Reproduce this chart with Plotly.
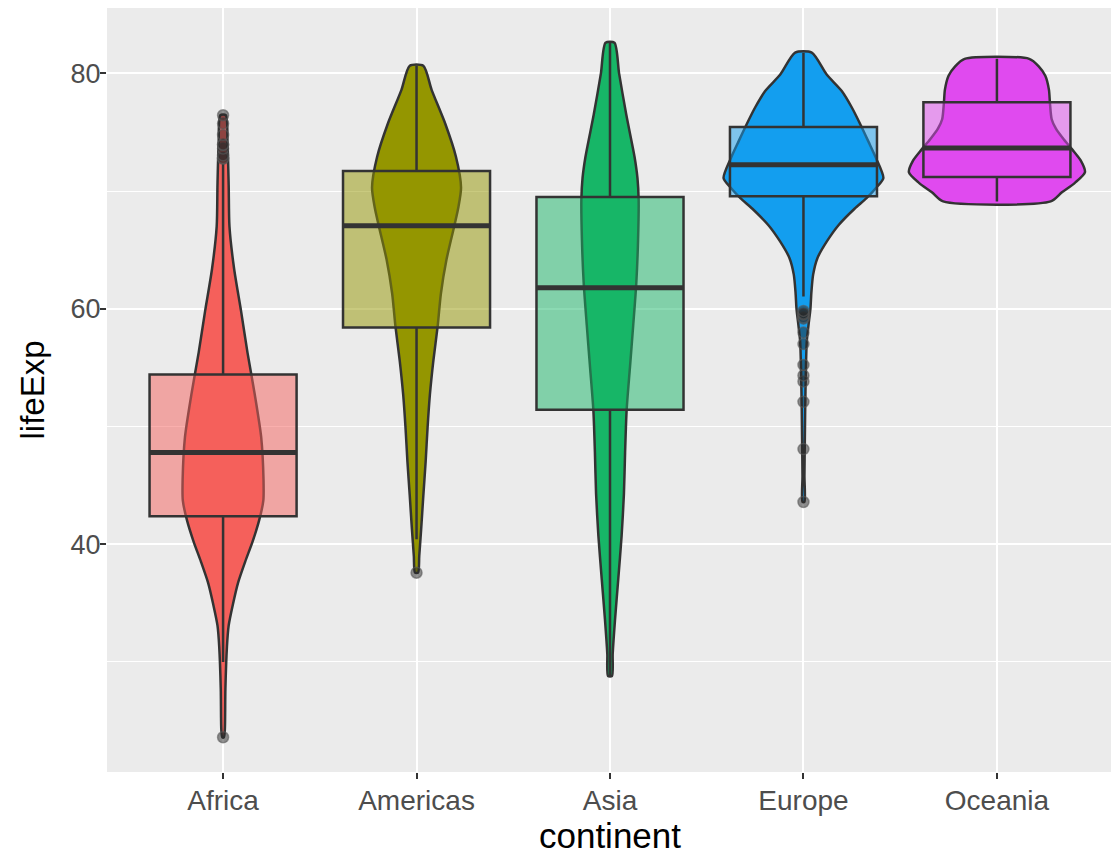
"""Violin + box plot of life expectancy by continent (ggplot2 look)."""

import plotly.graph_objects as go

continents = ["Africa", "Americas", "Asia", "Europe", "Oceania"]
positions = [1, 2, 3, 4, 5]

violin_colors = ["#F5605B", "#949600", "#17B667", "#139EEF", "#E04AEF"]
box_fills = [
    "rgba(245,96,91,0.5)",
    "rgba(148,150,0,0.5)",
    "rgba(23,182,103,0.5)",
    "rgba(19,158,239,0.5)",
    "rgba(224,74,239,0.5)",
]

# violin outlines: lifeExp level and half width (category units)
africa_y = [23.6, 24.2, 27.7, 31.3, 33.1, 34.9, 36.7, 38.5, 40.2, 42.0, 43.7,
            45.5, 49.1, 52.7, 56.3, 59.8, 63.4, 67.0, 70.5, 74.1, 76.44]
africa_w = [0.004, 0.009, 0.012, 0.020, 0.029, 0.051, 0.077, 0.114, 0.152, 0.186,
            0.208, 0.209, 0.197, 0.164, 0.126, 0.093, 0.057, 0.033, 0.029, 0.023, 0.014]

americas_y = [37.58, 39.0, 41.3, 44.1, 47.0, 49.9, 52.7, 55.6, 58.5, 61.3, 64.2,
              67.1, 68.6, 70.3, 72.9, 75.7, 78.6, 80.65]
americas_w = [0.008, 0.014, 0.024, 0.035, 0.047, 0.057, 0.069, 0.087, 0.109, 0.126,
              0.155, 0.196, 0.216, 0.230, 0.204, 0.149, 0.078, 0.035]

asia_y = [28.8, 30.7, 33.6, 37.1, 40.7, 44.3, 47.8, 51.4, 55.0, 58.6, 62.2, 65.8,
          69.3, 71.1, 72.9, 76.5, 80.0, 82.6]
asia_w = [0.010, 0.014, 0.026, 0.043, 0.060, 0.072, 0.078, 0.086, 0.103, 0.120,
          0.136, 0.145, 0.148, 0.142, 0.127, 0.084, 0.047, 0.023]

europe_y = [43.59, 45.8, 48.7, 51.5, 54.4, 57.2, 58.6, 60.0, 61.4, 62.9, 64.3, 65.7,
            67.1, 68.5, 69.4, 70.3, 71.1, 72.8, 74.2, 75.7, 77.1, 78.5, 79.9, 81.76]
europe_w = [0.005, 0.005, 0.007, 0.009, 0.012, 0.017, 0.026, 0.036, 0.041, 0.050,
            0.072, 0.120, 0.181, 0.264, 0.326, 0.377, 0.413, 0.375, 0.336, 0.293,
            0.250, 0.198, 0.120, 0.043]

oceania_y = [69.12, 69.9, 70.7, 71.6, 72.6, 73.5, 74.4, 75.3, 76.1, 77.5, 78.6,
             79.8, 80.6, 81.235]
oceania_w = [0.278, 0.336, 0.403, 0.455, 0.433, 0.391, 0.345, 0.305, 0.283, 0.274,
             0.269, 0.250, 0.216, 0.167]

violin_y = [africa_y, americas_y, asia_y, europe_y, oceania_y]
violin_w = [africa_w, americas_w, asia_w, europe_w, oceania_w]

# box statistics
q1 = [42.3725, 58.41, 51.4263, 69.57, 71.205]
median = [47.792, 67.048, 61.7915, 72.241, 73.665]
q3 = [54.4115, 71.6995, 69.5053, 75.4505, 77.5525]
lower_fence = [30.0, 40.414, 28.801, 61.036, 69.12]
upper_fence = [72.301, 80.653, 82.603, 81.757, 81.235]

# outliers
outliers = [
    [72.737, 72.801, 73.042, 73.615, 73.923, 73.952, 74.772, 75.744, 76.442, 23.599],
    [37.579],
    [],
    [43.585, 48.079, 52.098, 53.82, 54.336, 55.23, 57.005, 57.996, 59.164, 59.28,
     59.507, 59.6, 59.82],
    [],
]

BOX_WIDTH = 0.76
OUTLINE = "#333333"
X_RANGE = [0.4, 5.6]
Y_RANGE = [20.649, 85.553]

fig = go.Figure()

# violins on the base axes
for pos, ys, ws, color in zip(positions, violin_y, violin_w, violin_colors):
    xs = [pos + w for w in ws] + [pos - w for w in reversed(ws)]
    yy = list(ys) + list(reversed(ys))
    fig.add_trace(
        go.Scatter(
            x=xs + [xs[0]],
            y=yy + [yy[0]],
            mode="lines",
            fill="toself",
            fillcolor=color,
            line={"color": OUTLINE, "width": 2.5, "shape": "spline", "smoothing": 0.7},
            hoverinfo="skip",
            showlegend=False,
        )
    )

# boxes on overlaid axes so they sit above the violins
for i, pos in enumerate(positions):
    fig.add_trace(
        go.Box(
            x=[pos],
            q1=[q1[i]],
            median=[median[i]],
            q3=[q3[i]],
            lowerfence=[lower_fence[i]],
            upperfence=[upper_fence[i]],
            width=BOX_WIDTH,
            whiskerwidth=0,
            fillcolor=box_fills[i],
            line={"color": OUTLINE, "width": 2.5},
            boxpoints=False,
            hoverinfo="skip",
            showlegend=False,
            xaxis="x2",
            yaxis="y2",
        )
    )
    fig.add_trace(
        go.Scatter(
            x=[pos - BOX_WIDTH / 2, pos + BOX_WIDTH / 2],
            y=[median[i], median[i]],
            mode="lines",
            line={"color": OUTLINE, "width": 5},
            hoverinfo="skip",
            showlegend=False,
            xaxis="x2",
            yaxis="y2",
        )
    )
    if outliers[i]:
        fig.add_trace(
            go.Scatter(
                x=[pos] * len(outliers[i]),
                y=outliers[i],
                mode="markers",
                marker={
                    "size": 11,
                    "color": "rgba(40,40,40,0.5)",
                    "line": {"width": 1.5, "color": "rgba(90,90,90,0.6)"},
                },
                hoverinfo="skip",
                showlegend=False,
                xaxis="x2",
                yaxis="y2",
            )
        )

# the page body adds an 8px offset, so the figure is sized to fit the window
fig.update_layout(
    width=1111,
    height=848,
    margin={"l": 99, "r": 6, "t": 0, "b": 84},
    paper_bgcolor="white",
    plot_bgcolor="#EBEBEB",
    boxmode="overlay",
    font={"family": "Liberation Sans, Arial, sans-serif", "color": "#4D4D4D"},
    showlegend=False,
    xaxis={
        "range": X_RANGE,
        "automargin": False,
        "tickmode": "array",
        "tickvals": positions,
        "ticktext": continents,
        "tickfont": {"size": 28, "color": "#4D4D4D"},
        "ticklabelstandoff": -3,
        "showgrid": True,
        "gridcolor": "white",
        "gridwidth": 2,
        "zeroline": False,
        "ticks": "outside",
        "ticklen": 6,
        "tickwidth": 1.5,
        "tickcolor": OUTLINE,
        "title": {"text": "continent", "font": {"size": 35, "color": "black"},
                  "standoff": 5},
    },
    yaxis={
        "range": Y_RANGE,
        "automargin": False,
        "tickmode": "array",
        "tickvals": [40, 60, 80],
        "tickfont": {"size": 27, "color": "#4D4D4D"},
        "ticklabelstandoff": -6,
        "showgrid": True,
        "gridcolor": "white",
        "gridwidth": 2,
        "zeroline": False,
        "ticks": "outside",
        "ticklen": 6,
        "tickwidth": 1.5,
        "tickcolor": OUTLINE,
        "minor": {"tickvals": [30, 50, 70], "showgrid": True, "gridcolor": "white",
                  "gridwidth": 1, "ticks": ""},
        "title": {"text": "lifeExp", "font": {"size": 33, "color": "black"},
                  "standoff": 16},
    },
    xaxis2={"range": X_RANGE, "overlaying": "x", "visible": False},
    yaxis2={"range": Y_RANGE, "overlaying": "y", "visible": False},
)

fig.write_html("out.html")
